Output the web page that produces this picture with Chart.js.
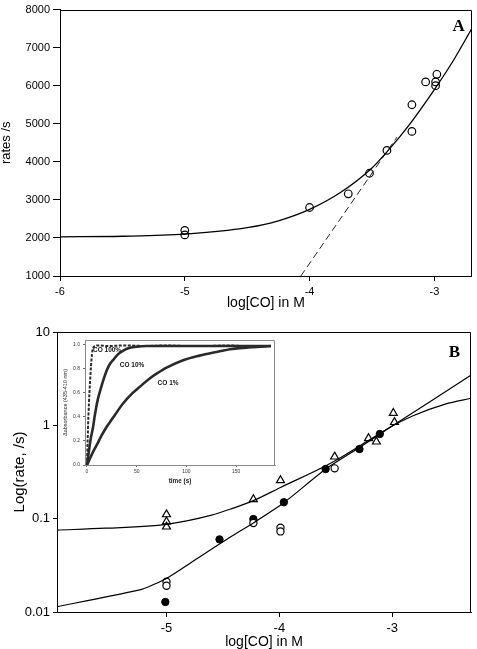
<!DOCTYPE html>
<html lang="en">
<head>
    <meta charset="UTF-8">
    <title>CO rate plots</title>
    <script src="https://cdn.jsdelivr.net/npm/chart.js@4.4.1/dist/chart.umd.min.js"></script>
    <style>
        body { margin: 0; background: #fff; }
        .wrap { position: relative; width: 477px; height: 649px; overflow: hidden; }
        canvas { position: absolute; }
        #chartA { left: 0; top: 0; }
        #chartB { left: 0; top: 312px; }
        #inset { left: 58px; top: 334px; }
    </style>
</head>
<body>
<div class="wrap">
    <canvas id="chartA" width="477" height="312"></canvas>
    <canvas id="chartB" width="477" height="337"></canvas>
    <canvas id="inset" width="220" height="154"></canvas>
</div>
<script>
// Panel A: rates vs log[CO]
const aRateX = [-5, -5, -4, -3.69, -3.52, -3.38, -3.18, -3.18, -3.07, -2.99, -2.99, -2.98];
const aRateY = [2200, 2080, 2800, 3160, 3700, 4300, 5500, 4800, 6100, 6000, 6100, 6300];
const aFitX = [-6, -5.5, -5, -4.5, -4.25, -4, -3.75, -3.5, -3.37, -3.2, -3, -2.85, -2.7];
const aFitY = [2030, 2045, 2100, 2270, 2450, 2750, 3200, 3840, 4300, 4980, 5900, 6650, 7500];
const aDashX = [-4.07, -3.3];
const aDashY = [1000, 4650];
const aXTicks = [-6, -5, -4, -3];
const aYTicks = [1000, 2000, 3000, 4000, 5000, 6000, 7000, 8000];

// Panel B: log(rate) vs log[CO]
const bTriX = [-5, -5, -5, -4.23, -3.99, -3.51, -3.21, -3.14, -2.99, -2.98];
const bTriY = [0.111, 0.093, 0.082, 0.161, 0.257, 0.461, 0.726, 0.668, 1.35, 1.08];
const bFillX = [-5.01, -4.53, -4.23, -3.96, -3.59, -3.29, -3.11];
const bFillY = [0.0128, 0.060, 0.099, 0.150, 0.340, 0.557, 0.807];
const bOpenX = [-5, -5, -4.23, -3.99, -3.99, -3.51];
const bOpenY = [0.0211, 0.0191, 0.090, 0.080, 0.073, 0.346];
const bUpperX = [-5.97, -5.54, -5.0, -4.6, -4.43, -4.23, -3.99, -3.55, -3.2, -3.02, -2.82, -2.53, -2.3];
const bUpperY = [0.0755, 0.079, 0.087, 0.109, 0.127, 0.156, 0.216, 0.39, 0.70, 0.953, 1.26, 1.69, 1.95];
const bLowerX = [-5.97, -5.22, -5.0, -4.72, -4.43, -4.23, -3.96, -3.59, -3.29, -2.99, -2.3];
const bLowerY = [0.0114, 0.0175, 0.0229, 0.038, 0.064, 0.090, 0.148, 0.34, 0.58, 1.0, 3.46];
const bXTicks = [-5, -4, -3];
const bYTicks = [0.01, 0.1, 1, 10];

// Inset: absorbance traces
const insetT100 = [0, 1, 2, 3, 4, 5, 6, 8, 12, 20, 40, 60, 80, 100, 120, 140, 160, 185];
const insetA100 = [0, 0.30, 0.52, 0.68, 0.82, 0.92, 0.97, 0.99, 0.995, 0.99, 0.995, 0.99, 0.995, 0.99, 0.99, 0.995, 0.99, 0.99];
const insetT10 = [0, 2, 4, 6, 8, 11, 14, 17, 20, 23, 27, 31, 36, 43, 50, 60, 80, 100, 130, 160, 185];
const insetA10 = [0, 0.12, 0.23, 0.31, 0.42, 0.55, 0.64, 0.72, 0.79, 0.84, 0.88, 0.92, 0.95, 0.975, 0.985, 0.99, 0.99, 0.99, 0.99, 0.99, 0.99];
const insetT1 = [0, 5, 10, 15, 20, 25, 30, 36, 46, 53, 63, 70, 80, 96, 113, 130, 146, 165, 185];
const insetA1 = [0, 0.09, 0.17, 0.25, 0.32, 0.38, 0.44, 0.51, 0.60, 0.65, 0.72, 0.76, 0.81, 0.87, 0.91, 0.94, 0.965, 0.98, 0.99];
const insetXTicks = [0, 50, 100, 150];
const insetYTicks = [0, 0.2, 0.4, 0.6, 0.8, 1.0];

Chart.defaults.font.family = "'Liberation Sans', Arial, sans-serif";
Chart.defaults.color = '#000';

const pts = (xs, ys) => xs.map((x, i) => ({ x: x, y: ys[i] }));
const fixTicks = vals => scale => { scale.ticks = vals.map(v => ({ value: v })); };

// draws the top/right sides of the box and the panel letter
const framePlugin = {
    id: 'frame',
    afterDatasetsDraw(chart, args, opts) {
        const { ctx, chartArea: a } = chart;
        ctx.save();
        ctx.strokeStyle = opts.color || '#000';
        ctx.lineWidth = 1;
        const t = Math.round(a.top) + 0.5, r = Math.round(a.right) - 0.5;
        ctx.beginPath();
        ctx.moveTo(Math.round(a.left), t);
        ctx.lineTo(r, t);
        ctx.lineTo(r, Math.round(a.bottom));
        ctx.stroke();
        if (opts.letter) {
            ctx.font = 'bold 17px "Liberation Serif", "Times New Roman", serif';
            ctx.fillStyle = '#000';
            ctx.textAlign = 'right';
            ctx.textBaseline = 'alphabetic';
            ctx.fillText(opts.letter, a.right - opts.dx, a.top + opts.dy);
        }
        (opts.notes || []).forEach(n => {
            ctx.font = n.font;
            ctx.fillStyle = '#111';
            ctx.textAlign = 'left';
            ctx.textBaseline = 'middle';
            ctx.fillText(n.text, chart.scales.x.getPixelForValue(n.x), chart.scales.y.getPixelForValue(n.y));
        });
        ctx.restore();
    }
};

function axis(extra) {
    return Object.assign({
        grid: { drawOnChartArea: false, drawTicks: true, tickLength: 6, color: '#000' },
        border: { color: '#000', width: 1 }
    }, extra);
}

// ---- Panel A ----
new Chart(document.getElementById('chartA'), {
    type: 'scatter',
    data: {
        datasets: [
            { data: pts(aFitX, aFitY), showLine: true, pointRadius: 0, borderColor: '#000', borderWidth: 1.3, cubicInterpolationMode: 'monotone' },
            { data: pts(aDashX, aDashY), showLine: true, pointRadius: 0, borderColor: '#222', borderWidth: 1, borderDash: [7, 4] },
            { data: pts(aRateX, aRateY), pointStyle: 'circle', pointRadius: 3.8, backgroundColor: 'rgba(255,255,255,0)', borderColor: '#000', borderWidth: 1.2 }
        ]
    },
    plugins: [framePlugin],
    options: {
        responsive: false,
        animation: false,
        layout: { padding: { top: 4, right: 3, left: 0, bottom: 2 } },
        plugins: {
            legend: { display: false },
            tooltip: { enabled: false },
            frame: { letter: 'A', dx: 7, dy: 21 }
        },
        scales: {
            x: axis({
                type: 'linear', min: -6, max: -2.7,
                afterBuildTicks: fixTicks(aXTicks),
                afterFit: s => { s.height = 34; },
                grid: { drawOnChartArea: false, tickLength: 5, color: '#000' },
                ticks: { font: { size: 11 }, padding: 4, callback: v => String(v) },
                title: { display: true, text: 'log[CO] in M', font: { size: 14, lineHeight: 1 }, padding: { top: 0, bottom: 0 } }
            }),
            y: axis({
                type: 'linear', min: 1000, max: 8000,
                afterBuildTicks: fixTicks(aYTicks),
                afterFit: s => { s.width = 60; },
                grid: { drawOnChartArea: false, tickLength: 7, color: '#000' },
                ticks: { font: { size: 11 }, padding: 3, callback: v => String(v) },
                title: { display: true, text: 'rates /s', font: { size: 13, lineHeight: 1 }, padding: { top: 0, bottom: 0 } }
            })
        }
    }
});

// ---- Panel B ----
new Chart(document.getElementById('chartB'), {
    type: 'scatter',
    data: {
        datasets: [
            { data: pts(bUpperX, bUpperY), showLine: true, pointRadius: 0, borderColor: '#000', borderWidth: 1.2, cubicInterpolationMode: 'monotone' },
            { data: pts(bLowerX, bLowerY), showLine: true, pointRadius: 0, borderColor: '#000', borderWidth: 1.2, tension: 0.15 },
            { data: pts(bTriX, bTriY), pointStyle: 'triangle', pointRadius: 4.6, backgroundColor: 'rgba(255,255,255,0)', borderColor: '#000', borderWidth: 1.2 },
            { data: pts(bOpenX, bOpenY), pointStyle: 'circle', pointRadius: 3.6, backgroundColor: '#fff', borderColor: '#000', borderWidth: 1.2 },
            { data: pts(bFillX, bFillY), pointStyle: 'circle', pointRadius: 3.7, backgroundColor: '#000', borderColor: '#000', borderWidth: 1 }
        ]
    },
    plugins: [framePlugin],
    options: {
        responsive: false,
        animation: false,
        layout: { padding: { top: 20, right: 1, left: 0, bottom: 0 } },
        plugins: {
            legend: { display: false },
            tooltip: { enabled: false },
            frame: { letter: 'B', dx: 11, dy: 25 }
        },
        scales: {
            x: axis({
                type: 'linear', min: -5.97, max: -2.3,
                afterBuildTicks: fixTicks(bXTicks),
                afterFit: s => { s.height = 37; },
                grid: { drawOnChartArea: false, tickLength: 5, color: '#000' },
                ticks: { font: { size: 13 }, padding: 4, callback: v => String(v) },
                title: { display: true, text: 'log[CO] in M', font: { size: 14, lineHeight: 1 }, padding: { top: 0, bottom: 0 } }
            }),
            y: axis({
                type: 'logarithmic', min: 0.01, max: 10,
                afterBuildTicks: fixTicks(bYTicks),
                afterFit: s => { s.width = 57; },
                grid: { drawOnChartArea: false, tickLength: 4, color: '#000' },
                ticks: { font: { size: 13 }, padding: 3, callback: v => String(v) },
                title: { display: true, text: 'Log(rate, /s)', font: { size: 15, lineHeight: 1 }, padding: { top: 12, bottom: 0 } }
            })
        }
    }
});

// ---- Inset ----
const traceStyle = { showLine: true, pointRadius: 0, borderColor: '#2a2a2a', borderWidth: 2.6, cubicInterpolationMode: 'monotone' };
new Chart(document.getElementById('inset'), {
    type: 'scatter',
    data: {
        datasets: [
            Object.assign({ data: pts(insetT1, insetA1) }, traceStyle),
            Object.assign({ data: pts(insetT10, insetA10) }, traceStyle),
            Object.assign({ data: pts(insetT100, insetA100) }, traceStyle, { borderWidth: 2, borderDash: [3, 1.5] })
        ]
    },
    plugins: [framePlugin, {
        id: 'bg',
        beforeDraw(chart) {
            const { ctx, chartArea: a } = chart;
            ctx.save();
            ctx.fillStyle = '#fff';
            ctx.fillRect(a.left, a.top, a.right - a.left, a.bottom - a.top);
            ctx.restore();
        }
    }],
    options: {
        responsive: false,
        animation: false,
        layout: { padding: { top: 3, right: 3, left: 0, bottom: 0 } },
        plugins: {
            legend: { display: false },
            tooltip: { enabled: false },
            frame: {
                color: '#8a8a8a',
                notes: [
                    { text: 'CO 100%', x: 6, y: 0.955, font: 'bold 6.5px "Liberation Sans", Arial, sans-serif' },
                    { text: 'CO 10%', x: 33, y: 0.83, font: 'bold 6.5px "Liberation Sans", Arial, sans-serif' },
                    { text: 'CO 1%', x: 71, y: 0.68, font: 'bold 6.5px "Liberation Sans", Arial, sans-serif' }
                ]
            }
        },
        scales: {
            x: {
                type: 'linear', min: -2, max: 189,
                afterBuildTicks: fixTicks(insetXTicks),
                afterFit: s => { s.height = 23; },
                grid: { drawOnChartArea: false, tickLength: 2, color: '#666' },
                border: { color: '#8a8a8a', width: 1 },
                ticks: { font: { size: 5 }, color: '#333', padding: 2, callback: v => String(v) },
                title: { display: true, text: 'time (s)', color: '#222', font: { size: 6.4, weight: 'bold', lineHeight: 1 }, padding: { top: 0, bottom: 3.5 } }
            },
            y: {
                type: 'linear', min: 0, max: 1.04,
                afterBuildTicks: fixTicks(insetYTicks),
                afterFit: s => { s.width = 27; },
                grid: { drawOnChartArea: false, tickLength: 2, color: '#666' },
                border: { color: '#8a8a8a', width: 1 },
                ticks: { font: { size: 5 }, color: '#333', padding: 3, callback: v => v.toFixed(1) },
                title: { display: true, text: 'Δabsorbance (435-410 nm)', color: '#222', font: { size: 5.5, lineHeight: 1 }, padding: { top: 4.5, bottom: 0 } }
            }
        }
    }
});
</script>
</body>
</html>
